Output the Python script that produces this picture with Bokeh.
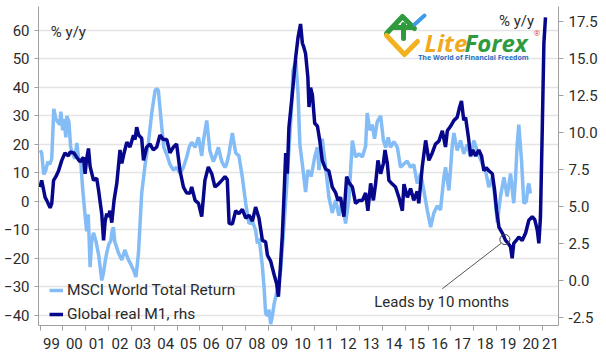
from bokeh.plotting import figure
from bokeh.models import (Range1d, LinearAxis, FixedTicker, NumeralTickFormatter,
                          Legend, LegendItem, Label)
from bokeh.embed import file_html
from bokeh.resources import INLINE

# ---------------- data ----------------
msci_date = [1999.01, 1999.07, 1999.16, 1999.25, 1999.34, 1999.42, 1999.51, 1999.60, 1999.69, 1999.77,
             1999.86, 1999.91, 1999.99, 2000.04, 2000.13, 2000.17, 2000.26, 2000.34, 2000.43, 2000.52,
             2000.61, 2000.69, 2000.78, 2000.87, 2000.96, 2001.04, 2001.11, 2001.19, 2001.26, 2001.34,
             2001.45, 2001.57, 2001.70, 2001.78, 2001.85, 2001.92, 2002.01, 2002.10, 2002.14, 2002.21,
             2002.27, 2002.43, 2002.58, 2002.71, 2002.87, 2002.97, 2003.09, 2003.20, 2003.31, 2003.45,
             2003.60, 2003.75, 2003.89, 2004.04, 2004.11, 2004.18, 2004.33, 2004.42, 2004.55, 2004.69,
             2004.84, 2004.98, 2005.13, 2005.28, 2005.42, 2005.53, 2005.64, 2005.79, 2005.94, 2006.08,
             2006.15, 2006.30, 2006.44, 2006.59, 2006.69, 2006.81, 2006.96, 2007.10, 2007.17, 2007.28,
             2007.42, 2007.57, 2007.71, 2007.86, 2008.01, 2008.15, 2008.30, 2008.44, 2008.52, 2008.60,
             2008.74, 2008.81, 2008.88, 2008.96, 2009.03, 2009.10, 2009.18, 2009.25, 2009.39, 2009.54,
             2009.67, 2009.80, 2009.93, 2010.01, 2010.08, 2010.20, 2010.30, 2010.38, 2010.49, 2010.63,
             2010.73, 2010.88, 2011.03, 2011.15, 2011.22, 2011.36, 2011.51, 2011.65, 2011.80, 2011.95,
             2012.09, 2012.24, 2012.38, 2012.53, 2012.68, 2012.82, 2012.97, 2013.12, 2013.26, 2013.33,
             2013.45, 2013.55, 2013.65, 2013.77, 2013.92, 2014.04, 2014.14, 2014.25, 2014.35, 2014.50,
             2014.65, 2014.79, 2015.08, 2015.23, 2015.37, 2015.52, 2015.67, 2015.81, 2015.96, 2016.11,
             2016.25, 2016.40, 2016.54, 2016.69, 2016.76, 2016.91, 2017.06, 2017.13, 2017.27, 2017.42,
             2017.56, 2017.71, 2017.86, 2018.00, 2018.15, 2018.37, 2018.51, 2018.66, 2018.81, 2018.92,
             2019.03, 2019.17, 2019.32, 2019.46, 2019.61, 2019.75, 2019.83, 2019.90, 2019.97, 2020.09,
             2020.19, 2020.30, 2020.37, 2020.41, 2020.48]
msci_val = [18, 17, 9.5, 11, 14, 13, 15, 32.5, 29, 28,
            27, 31.5, 25, 29, 22.5, 30, 28, 19, 16.7, 15,
            20.5, 15, 14, 4, -4, -10.5, -4.5, -23, -14, -11,
            -14, -19, -27.7, -25, -21, -18, -15, -13.7, -11, -9,
            -14, -18, -20.5, -17, -20.5, -22, -24, -26.5, -18, 2.8,
            13, 21, 31, 39, 39.5, 39, 26, 19, 16.5, 13,
            11, 12, 9.8, 12, 15.5, 19, 20.8, 19, 22.5, 16,
            21, 28.4, 17.7, 14, 16, 19, 14, 12, 13, 17,
            24, 17, 16, 8.5, -0.8, -7.7, -7, -10, -14.7, -13,
            -23, -30, -39.3, -40, -38, -43, -40, -36, -31, -24,
            -10, 5, 22, 32, 46, 49.5, 38, 20, 13, 3.3,
            11, 8.8, 15.6, 19, 11, 22, 12, 1.5, -4, 0.5,
            -5, 0.5, -7.7, 1, 21.4, 15.6, 16.7, 15.6, 19.5, 31,
            25, 27, 22, 28, 30, 21.4, 19, 22.5, 19, 21,
            19, 12, 14.2, 12, 13, 6.3, 9.8, 3.9, -3, -9,
            -4, -1.5, -3, 8.5, 12, 3.9, 20, 24, 17.9, 21.4,
            16.7, 20, 15.6, 21.4, 17.9, 13.2, 11, 5, 8.5, 1.8,
            -7.4, 1.8, 8.5, 1.8, 9.8, -0.6, 8.5, 20, 27, 14.4,
            -0.6, 0, 5, 6.3, 2.8]

m1_date = [1999.00, 1999.07, 1999.22, 1999.29, 1999.44, 1999.51, 1999.59, 1999.69, 1999.81, 1999.95,
           2000.09, 2000.24, 2000.31, 2000.48, 2000.61, 2000.75, 2000.90, 2000.97, 2001.04, 2001.12,
           2001.19, 2001.34, 2001.48, 2001.56, 2001.70, 2001.78, 2001.85, 2001.92, 2001.99, 2002.06,
           2002.14, 2002.24, 2002.36, 2002.50, 2002.58, 2002.68, 2002.80, 2002.94, 2003.09, 2003.16,
           2003.23, 2003.32, 2003.45, 2003.53, 2003.67, 2003.82, 2003.96, 2004.11, 2004.25, 2004.40,
           2004.55, 2004.69, 2004.84, 2004.98, 2005.13, 2005.28, 2005.42, 2005.57, 2005.64, 2005.79,
           2005.94, 2006.08, 2006.22, 2006.37, 2006.52, 2006.66, 2006.81, 2006.96, 2007.10, 2007.20,
           2007.28, 2007.42, 2007.57, 2007.71, 2007.86, 2008.01, 2008.15, 2008.30, 2008.44, 2008.59,
           2008.74, 2008.88, 2008.96, 2009.10, 2009.25, 2009.36, 2009.44, 2009.51, 2009.61, 2009.68,
           2009.76, 2009.83, 2009.90, 2010.05, 2010.20, 2010.30, 2010.41, 2010.49, 2010.56, 2010.63,
           2010.73, 2010.78, 2010.85, 2010.93, 2011.03, 2011.15, 2011.25, 2011.36, 2011.51, 2011.65,
           2011.80, 2011.95, 2012.05, 2012.16, 2012.31, 2012.43, 2012.53, 2012.68, 2012.82, 2012.97,
           2013.12, 2013.26, 2013.36, 2013.48, 2013.60, 2013.70, 2013.80, 2013.92, 2014.04, 2014.11,
           2014.21, 2014.28, 2014.43, 2014.57, 2014.72, 2014.87, 2014.94, 2015.09, 2015.23, 2015.37,
           2015.52, 2015.59, 2015.74, 2015.89, 2016.03, 2016.18, 2016.32, 2016.47, 2016.62, 2016.76,
           2016.84, 2016.98, 2017.13, 2017.27, 2017.38, 2017.46, 2017.56, 2017.64, 2017.76, 2017.86,
           2017.96, 2018.08, 2018.22, 2018.34, 2018.44, 2018.54, 2018.66, 2018.81, 2018.91, 2019.00,
           2019.10, 2019.25, 2019.39, 2019.51, 2019.61, 2019.68, 2019.75, 2019.86, 2019.97, 2020.12,
           2020.27, 2020.41, 2020.56, 2020.67, 2020.78, 2020.85, 2020.92, 2021.00, 2021.07, 2021.14]
m1_val = [6.3, 6.75, 5.6, 5.4, 4.9, 5.2, 6.75, 7.0, 7.4, 8.1,
          8.6, 8.4, 8.66, 8.6, 8.3, 8.0, 8.3, 7.2, 8.2, 8.9,
          7.7, 6.75, 6.9, 6.1, 4.5, 2.7, 4.0, 4.5, 4.3, 4.7,
          3.9, 5.4, 6.55, 8.8, 7.9, 8.6, 9.33, 9.0, 9.8, 9.5,
          10.34, 9.8, 9.6, 8.1, 9.0, 9.2, 8.8, 9.0, 9.8, 9.5,
          9.5, 8.6, 9.0, 9.2, 7.4, 6.3, 5.9, 5.9, 6.3, 5.4,
          5.2, 4.3, 6.75, 7.65, 7.2, 6.3, 6.5, 6.75, 7.0, 6.8,
          3.85, 3.8, 4.7, 4.5, 4.8, 4.2, 4.4, 4.0, 4.95, 4.2,
          2.7, 2.6, 1.7, 1.3, 0.4, -0.2, -1.1, 0.5, 3.0, 5.5,
          8.6, 7.2, 10.3, 12.6, 15.1, 16.4, 17.3, 16.0, 15.7, 15.3,
          13.7, 11.7, 13.0, 12.5, 10.6, 10.4, 9.45, 8.1, 7.5, 7.4,
          6.3, 5.9, 5.4, 5.6, 4.3, 7.0, 6.6, 6.3, 5.2, 5.4,
          5.4, 5.9, 4.7, 6.55, 5.4, 6.55, 8.1, 7.2, 7.9, 8.8,
          7.9, 6.75, 6.5, 6.3, 5.6, 4.7, 6.5, 5.6, 6.2, 5.4,
          6.0, 5.2, 7.65, 9.45, 8.1, 8.6, 9.2, 9.4, 10.1, 9.0,
          10.1, 10.4, 10.8, 11.0, 11.7, 12.1, 10.8, 11.0, 9.7, 8.4,
          8.8, 8.4, 8.8, 8.4, 7.4, 7.6, 7.4, 7.2, 6.1, 4.7,
          3.6, 3.2, 2.7, 2.5, 2.26, 1.5, 2.5, 2.7, 2.93, 2.7,
          3.2, 4.06, 4.3, 4.1, 3.4, 2.5, 4.3, 10.3, 16.0, 17.75]

years = list(range(1999, 2022))
year_labels = ["99", "00", "01", "02", "03", "04", "05", "06", "07", "08", "09", "10",
               "11", "12", "13", "14", "15", "16", "17", "18", "19", "20", "21"]
left_ticks = [-40, -30, -20, -10, 0, 10, 20, 30, 40, 50, 60]
right_ticks = [-2.5, 0.0, 2.5, 5.0, 7.5, 10.0, 12.5, 15.0, 17.5]

series_names = ["MSCI World Total Return", "Global real M1, rhs"]
unit_text = "% y/y"
note_text = "Leads by 10 months"
note_point = (2019.36, 2.76)          # circled point on the M1 line (rhs)
note_line_x = [2016.62, 2019.19]
note_line_y = [-30.6, -14.7]

# ---------------- styling ----------------
FONT = "Roboto"
TXT = "#2b2b2b"
AXC = "#a0a0a0"
LIGHT = "#84bcf6"
NAVY = "#07078c"

X0, X1 = 1998.93, 2021.71
YL0, YL1 = -43.51, 68.42
YR0, YR1 = -3.04, 18.48

p = figure(width=606, height=356, output_backend="svg", toolbar_location=None,
           x_range=Range1d(X0, X1), y_range=Range1d(YL0, YL1),
           min_border_left=38, min_border_right=48, min_border_top=6, min_border_bottom=31)
p.extra_y_ranges = {"rhs": Range1d(YR0, YR1)}
p.outline_line_color = None
p.background_fill_color = "white"
p.border_fill_color = "white"

# x axis: tick marks at year boundaries, labels mid-year
mids = [y + 0.5 for y in years[:-1]] + [(years[-1] + X1) / 2]
xa = p.xaxis[0]
xa.ticker = FixedTicker(ticks=mids, minor_ticks=years)
xa.major_label_overrides = {m: lab for m, lab in zip(mids, year_labels)}
xa.major_tick_line_color = None
xa.minor_tick_line_color = AXC
xa.minor_tick_in = 0
xa.minor_tick_out = 5
xa.axis_line_color = AXC
xa.major_label_standoff = 6
xa.major_label_text_font = FONT
xa.major_label_text_font_size = "15px"
xa.major_label_text_color = TXT

ya = p.yaxis[0]
ya.ticker = FixedTicker(ticks=left_ticks, minor_ticks=[])
ya.axis_line_color = AXC
ya.major_tick_line_color = AXC
ya.major_tick_in = 0
ya.major_tick_out = 4
ya.minor_tick_line_color = None
ya.major_label_standoff = 5
ya.major_label_text_font = FONT
ya.major_label_text_font_size = "15px"
ya.major_label_text_color = TXT

ra = LinearAxis(y_range_name="rhs", ticker=FixedTicker(ticks=right_ticks, minor_ticks=[]),
                formatter=NumeralTickFormatter(format="0.0"))
ra.axis_line_color = AXC
ra.major_tick_line_color = AXC
ra.major_tick_in = 0
ra.major_tick_out = 5
ra.minor_tick_line_color = None
ra.major_label_standoff = 5
ra.major_label_text_font = FONT
ra.major_label_text_font_size = "15px"
ra.major_label_text_color = TXT
p.add_layout(ra, "right")

p.xgrid.visible = False
p.ygrid.ticker = FixedTicker(ticks=left_ticks, minor_ticks=[])
p.ygrid.grid_line_color = "#e4e4e4"
p.ygrid.grid_line_width = 1.5

# ---------------- series ----------------
r1 = p.line(msci_date, msci_val, line_color=LIGHT, line_width=3.5)
r2 = p.line(m1_date, m1_val, y_range_name="rhs", line_color=NAVY, line_width=3.5)

legend = Legend(items=[LegendItem(label=series_names[0], renderers=[r1]),
                       LegendItem(label=series_names[1], renderers=[r2])],
                location=(11, 1), orientation="vertical",
                border_line_color=None, background_fill_alpha=0,
                padding=0, margin=0, spacing=4,
                glyph_width=14, glyph_height=20, label_height=20, label_standoff=4,
                label_text_font=FONT, label_text_font_size="15.5px", label_text_color=TXT)
p.add_layout(legend)

# ---------------- annotations ----------------
p.add_layout(Label(x=1999.47, y=59.4, text=unit_text, text_font=FONT, text_font_size="15px",
                   text_color=TXT, text_baseline="middle", text_align="left"))
p.add_layout(Label(x=2020.64, y=63.3, text=unit_text, text_font=FONT, text_font_size="15px",
                   text_color=TXT, text_baseline="middle", text_align="right"))
p.add_layout(Label(x=2016.59, y=-35.3, text=note_text, text_font=FONT, text_font_size="15px",
                   text_color=TXT, text_baseline="middle", text_align="center"))
p.line(note_line_x, note_line_y, line_color="#555555", line_width=1)
p.scatter([note_point[0]], [note_point[1]], y_range_name="rhs", marker="circle", size=10,
          fill_color=None, line_color="#444444", line_width=1)

# ---------------- watermark (decoration) ----------------
FL, FR, FT, FB = 38.0, 558.0, 6.0, 325.0
def px(xp, yp):
    return (X0 + (xp - FL) / (FR - FL) * (X1 - X0), YL1 - (yp - FT) / (FB - FT) * (YL1 - YL0))

def stroke(points, color, w=5):
    xs, ys = zip(*[px(a, b) for a, b in points])
    p.line(list(xs), list(ys), line_color=color, line_width=w, line_cap="round", line_join="round")

stroke([(386, 33), (402, 16), (414, 28)], "#2f9a3e")
stroke([(394, 27), (412, 27)], "#2f9a3e")
stroke([(403, 24), (403, 38)], "#2f9a3e")
stroke([(386, 35), (404, 54), (417, 41)], "#f2b21f")
stroke([(414, 24), (424, 15)], "#3d9be9", 4)

lx, ly = px(424, 42)
p.add_layout(Label(x=lx, y=ly, text="Lite", text_font="Open Sans", text_font_size="24px",
                   text_font_style="bold italic", text_color="#f2a91e", text_baseline="middle"))
lx, ly = px(464, 42)
p.add_layout(Label(x=lx, y=ly, text="Forex", text_font="Open Sans", text_font_size="24px",
                   text_font_style="bold italic", text_color="#2f9a3e", text_baseline="middle"))
lx, ly = px(533, 32)
p.add_layout(Label(x=lx, y=ly, text="®", text_font="Open Sans", text_font_size="8px",
                   text_color="#e0453a", text_baseline="middle"))
lx, ly = px(473, 57)
p.add_layout(Label(x=lx, y=ly, text="The World of Financial Freedom", text_font="Open Sans",
                   text_font_size="7px", text_font_style="bold", text_color="#2a72c4",
                   text_baseline="middle", text_align="center"))

open("out.html", "w").write(file_html(p, INLINE))
